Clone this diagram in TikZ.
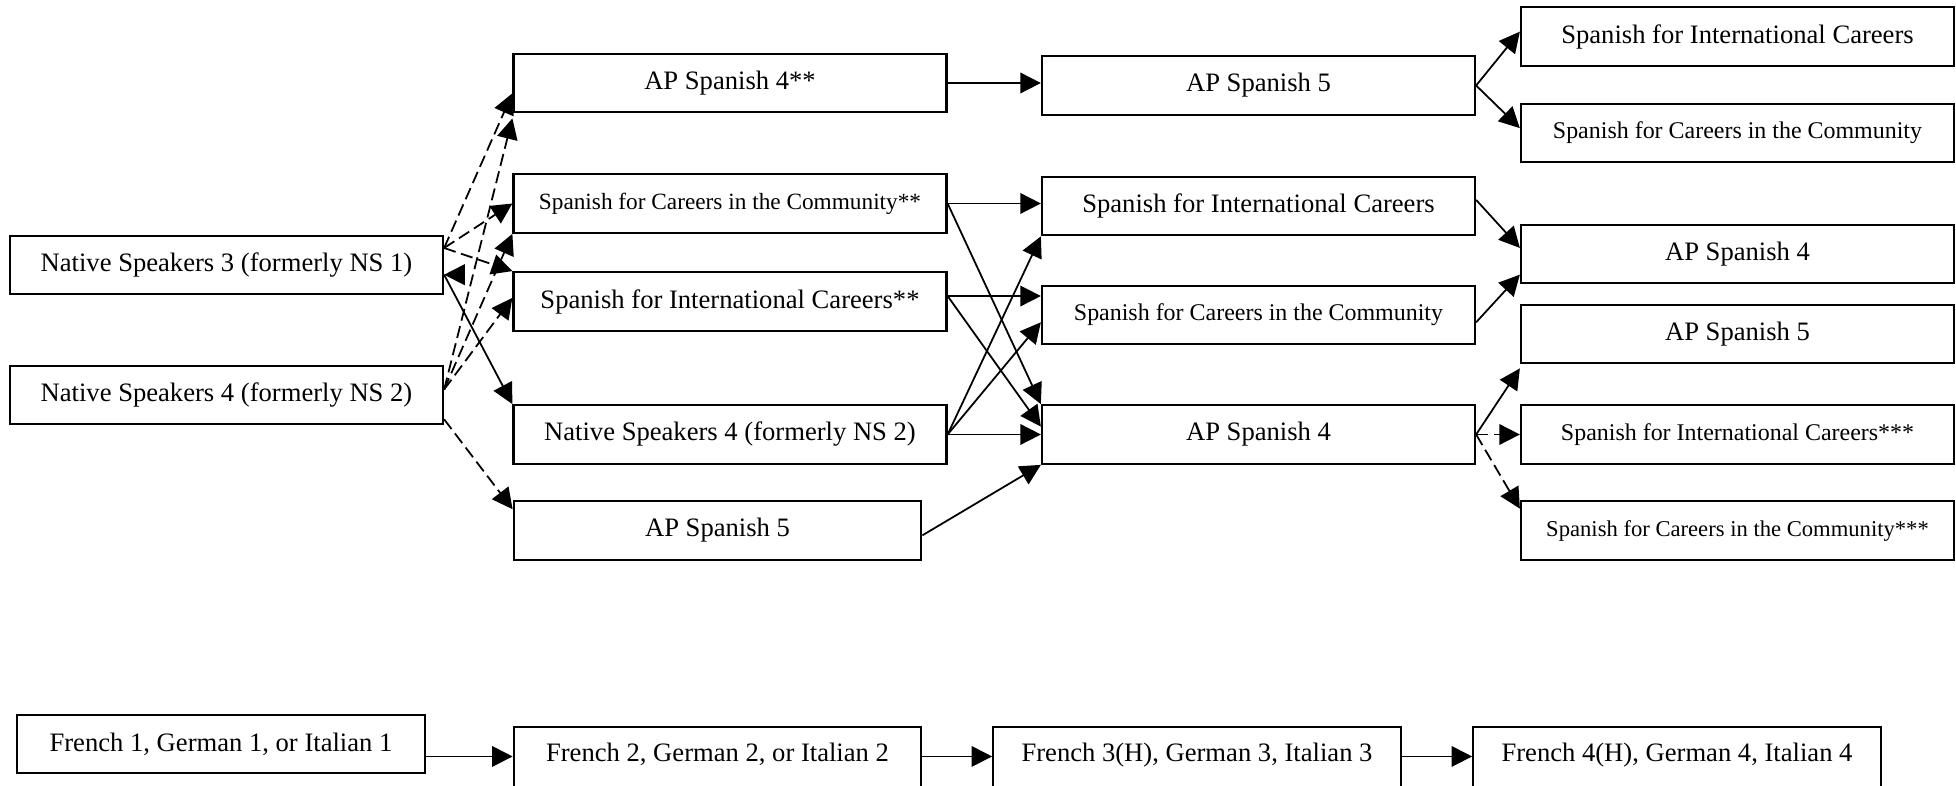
\documentclass[tikz,border=0pt]{standalone}
\usepackage{fontspec}
\setmainfont{Liberation Serif}
\usetikzlibrary{arrows.meta,calc}
\begin{document}
\begin{tikzpicture}[x=0.451pt,y=-0.451pt,
  box/.style={draw, rectangle, line width=1pt, inner sep=0pt, minimum width=195.3pt, minimum height=26.4pt, font=\fontsize{12}{14}\selectfont},
  narrow/.style={minimum width=183.8pt},
  fsA/.style={font=\fontsize{10.5}{12}\selectfont},
  fsB/.style={font=\fontsize{10.8}{12}\selectfont},
  fsC/.style={font=\fontsize{10.2}{12}\selectfont},
  cut/.style={minimum height=30.7pt, text height=9pt, text depth=8.5pt},
  arr/.style={line width=0.8pt, -{Triangle[length=9.3pt,width=9.3pt]}},
  dsh/.style={arr, dash pattern=on 5.5pt off 2.5pt}]
\useasboundingbox (0,0) rectangle (1956,786);
\clip (0,0) rectangle (1956,786);
% column 1
\node[box] (ns3) at (226.5,265) {Native Speakers 3 (formerly NS 1)};
\node[box] (ns4a) at (226.5,395) {Native Speakers 4 (formerly NS 2)};
% column 2
\node[box] (ap4s) at (730,83) {AP Spanish 4**};
\node[box, fsA] (sfcc2) at (730,203.5) {Spanish for Careers in the Community**};
\node[box] (sfic2) at (730,301.5) {Spanish for International Careers**};
\node[box] (ns4b) at (730,434.5) {Native Speakers 4 (formerly NS 2)};
\node[box, narrow] (ap5b) at (717.5,530.5) {AP Spanish 5};
% column 3
\node[box] (ap5c) at (1258.5,85.5) {AP Spanish 5};
\node[box] (sfic3) at (1258.5,206) {Spanish for International Careers};
\node[box, fsB] (sfcc3) at (1258.5,315) {Spanish for Careers in the Community};
\node[box] (ap4c) at (1258.5,434.5) {AP Spanish 4};
% column 4
\node[box] (sfic4) at (1737.5,36.5) {Spanish for International Careers};
\node[box, fsB] (sfcc4) at (1737.5,133) {Spanish for Careers in the Community};
\node[box] (ap4d) at (1737.5,254) {AP Spanish 4};
\node[box] (ap5d) at (1737.5,334) {AP Spanish 5};
\node[box, fsB] (sficx) at (1737.5,434.5) {Spanish for International Careers***};
\node[box, fsC] (sfccx) at (1737.5,530.5) {Spanish for Careers in the Community***};
% bottom row
\node[box, narrow] (f1) at (221,744) {French 1, German 1, or Italian 1};
\node[box, narrow, cut] (f2) at (717.5,761) {French 2, German 2, or Italian 2};
\node[box, narrow, cut] (f3) at (1197,761) {French 3(H), German 3, Italian 3};
\node[box, narrow, cut] (f4) at (1677,761) {French 4(H), German 4, Italian 4};
% start points on borders
\coordinate (ns3o) at ($(ns3.north east)!0.22!(ns3.south east)$);
\coordinate (ns3p) at ($(ns3.north east)!0.66!(ns3.south east)$);
\coordinate (ns4o) at ($(ns4a.north east)!0.41!(ns4a.south east)$);
\coordinate (ns4p) at ($(ns4a.north east)!0.9!(ns4a.south east)$);
\coordinate (sfic2o) at ($(sfic2.north east)!0.41!(sfic2.south east)$);
% column 1 -> column 2
\draw[dsh] (ns3o) -- ($(ap4s.north west)!0.67!(ap4s.south west)$);
\draw[dsh] (ns3o) -- (sfcc2.west);
\draw[dsh] (ns3o) -- (sfic2.north west);
\draw[arr] (ns3p) -- (ns4b.north west);
\draw[arr] ($(ns3p)+(20,0)$) -- (ns3p);
\draw[dsh] (ns4o) -- ($(ap4s.south west)+(0,5)$);
\draw[dsh] (ns4o) -- (sfcc2.south west);
\draw[dsh] (ns4o) -- ($(sfic2.north west)!0.44!(sfic2.south west)$);
\draw[dsh] (ns4p) -- ($(ap5b.north west)!0.15!(ap5b.south west)$);
% column 2 -> column 3
\draw[arr] (ap4s.east) -- (ap4s.east -| ap5c.west);
\draw[arr] (sfcc2.east) -- (sfcc2.east -| sfic3.west);
\draw[arr] (sfcc2.east) -- (ap4c.north west);
\draw[arr] (sfic2o) -- (sfic2o -| sfcc3.west);
\draw[arr] (sfic2o) -- ($(ap4c.north west)!0.37!(ap4c.south west)$);
\draw[arr] (ns4b.east) -- (ap4c.west);
\draw[arr] (ns4b.east) -- (sfic3.south west);
\draw[arr] (ns4b.east) -- ($(sfcc3.north west)!0.62!(sfcc3.south west)$);
\draw[arr] ($(ap5b.north east)!0.58!(ap5b.south east)$) -- (ap4c.south west);
% column 3 -> column 4
\draw[arr] (ap5c.east) -- ($(sfic4.north west)!0.42!(sfic4.south west)$);
\draw[arr] (ap5c.east) -- ($(sfcc4.north west)!0.42!(sfcc4.south west)$);
\draw[arr] ($(sfic3.north east)!0.4!(sfic3.south east)$) -- ($(ap4d.north west)!0.4!(ap4d.south west)$);
\draw[arr] ($(sfcc3.north east)!0.62!(sfcc3.south east)$) -- ($(ap4d.north west)!0.84!(ap4d.south west)$);
\draw[arr] (ap4c.east) -- ($(ap5d.south west)+(0,4)$);
\draw[dsh] (ap4c.east) -- (sficx.west);
\draw[dsh] (ap4c.east) -- ($(sfccx.north west)!0.14!(sfccx.south west)$);
% bottom row
\draw[arr] (f1.east |- f2.mid west) -- (f2.mid west);
\draw[arr] (f2.mid east) -- (f3.mid west);
\draw[arr] (f3.mid east) -- (f4.mid west);
\end{tikzpicture}
\end{document}
